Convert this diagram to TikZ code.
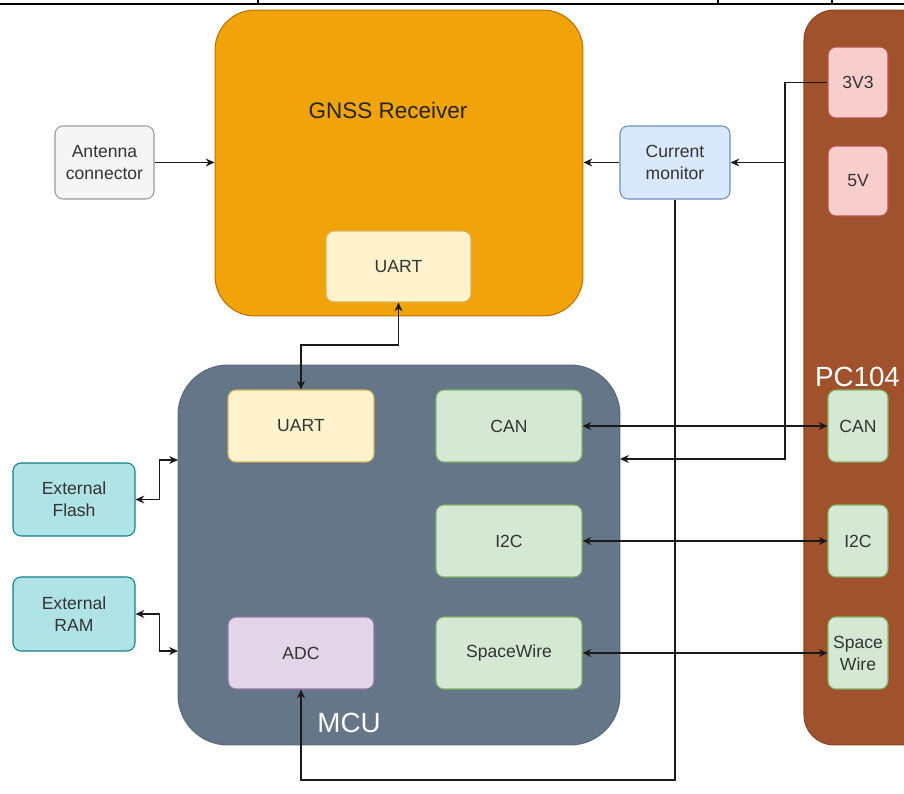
\documentclass[tikz,border=0pt]{standalone}
\usepackage{fontspec}
\setmainfont{Liberation Sans}
\usetikzlibrary{arrows.meta}
\definecolor{gnssfill}{HTML}{F0A30A}
\definecolor{gnssline}{HTML}{BD7000}
\definecolor{uartfill}{HTML}{FFF2CC}
\definecolor{uartline}{HTML}{D6B656}
\definecolor{antfill}{HTML}{F5F5F5}
\definecolor{antline}{HTML}{9A9A9A}
\definecolor{monfill}{HTML}{DAE8FC}
\definecolor{monline}{HTML}{6C8EBF}
\definecolor{pcfill}{HTML}{A0522D}
\definecolor{pcline}{HTML}{8A4422}
\definecolor{pwrfill}{HTML}{F8CECC}
\definecolor{pwrline}{HTML}{B85450}
\definecolor{busfill}{HTML}{D5E8D4}
\definecolor{busline}{HTML}{82B366}
\definecolor{mcufill}{HTML}{647687}
\definecolor{mculine}{HTML}{56687A}
\definecolor{adcfill}{HTML}{E1D5E7}
\definecolor{adcline}{HTML}{9673A6}
\definecolor{memfill}{HTML}{B0E3E6}
\definecolor{memline}{HTML}{0E8088}
\definecolor{txtgray}{HTML}{333333}
\definecolor{linegray}{HTML}{1A1A1A}
\begin{document}
\begin{tikzpicture}[x=0.02cm,y=-0.02cm,
  blk/.style={draw,rounded corners=0.16cm,align=center,inner sep=0pt,line width=0.6pt,
    text=txtgray,font=\fontsize{10}{12.5}\selectfont},
  arr/.style={-{Stealth[length=5pt,width=4.5pt]},line width=0.6pt,draw=linegray},
  darr/.style={{Stealth[length=5pt,width=4.5pt]}-{Stealth[length=5pt,width=4.5pt]},line width=0.6pt,draw=linegray}]
\useasboundingbox (0,0) rectangle (904,794);
\draw[line width=1.7pt] (0,4) -- (904,4);
\foreach \tx in {258,718,832} \draw[line width=0.6pt] (\tx,0) -- (\tx,4);
\node[blk,fill=gnssfill,draw=gnssline,rounded corners=0.8cm,minimum width=7.36cm,minimum height=6.12cm] (gnss) at (399,163) {};
\node[text=black!85,font=\fontsize{12.8}{15}\selectfont] (gnsslbl) at (388,110) {GNSS Receiver};
\node[blk,fill=uartfill,draw=uartline,minimum width=2.9cm,minimum height=1.42cm] (guart) at (398.5,266.5) {UART};
\node[blk,fill=antfill,draw=antline,minimum width=1.98cm,minimum height=1.46cm] (ant) at (104.5,162.5) {Antenna\\connector};
\node[blk,fill=monfill,draw=monline,minimum width=2.2cm,minimum height=1.46cm] (curmon) at (675,162.5) {Current\\monitor};
\node[blk,fill=pcfill,draw=pcline,rounded corners=0.6cm,minimum width=2.52cm,minimum height=14.7cm] (pc) at (867,377.5) {};
\node[text=white,font=\fontsize{15.8}{18}\selectfont] (pclbl) at (857.5,377) {PC104};
\node[blk,fill=pwrfill,draw=pwrline,minimum width=1.2cm,minimum height=1.42cm] (v33) at (858,82.5) {3V3};
\node[blk,fill=pwrfill,draw=pwrline,minimum width=1.2cm,minimum height=1.4cm] (v5) at (858,181) {5V};
\node[blk,fill=busfill,draw=busline,minimum width=1.2cm,minimum height=1.44cm] (pccan) at (858,426) {CAN};
\node[blk,fill=busfill,draw=busline,minimum width=1.2cm,minimum height=1.44cm] (pci2c) at (858,541) {I2C};
\node[blk,fill=busfill,draw=busline,minimum width=1.2cm,minimum height=1.44cm] (pcsw) at (858,653) {Space\\Wire};
\node[blk,fill=mcufill,draw=mculine,rounded corners=1cm,minimum width=8.84cm,minimum height=7.6cm] (mcu) at (399,555) {};
\node[text=white,font=\fontsize{15.8}{18}\selectfont] (mculbl) at (349,723) {MCU};
\node[blk,fill=uartfill,draw=uartline,minimum width=2.92cm,minimum height=1.44cm] (muart) at (301,426) {UART};
\node[blk,fill=busfill,draw=busline,minimum width=2.92cm,minimum height=1.44cm] (mcan) at (509,426) {CAN};
\node[blk,fill=busfill,draw=busline,minimum width=2.92cm,minimum height=1.44cm] (mi2c) at (509,541) {I2C};
\node[blk,fill=busfill,draw=busline,minimum width=2.92cm,minimum height=1.44cm] (msw) at (509,653) {SpaceWire};
\node[blk,fill=adcfill,draw=adcline,minimum width=2.92cm,minimum height=1.44cm] (adc) at (301,653) {ADC};
\node[blk,fill=memfill,draw=memline,minimum width=2.44cm,minimum height=1.46cm] (flash) at (74,499.5) {External\\Flash};
\node[blk,fill=memfill,draw=memline,minimum width=2.44cm,minimum height=1.48cm] (ram) at (74,614) {External\\RAM};
\coordinate (pwrjoin) at (785,162.5);
\coordinate (mcupwr) at (620,459);
\coordinate (lowbend) at (675,780);
\coordinate (uartbend) at (398.5,345);
\coordinate (flashin) at (178,460);
\coordinate (ramin) at (178,651);
\draw[arr] (ant.east) -- (ant.east -| gnss.west);
\draw[arr] (curmon.west) -- (curmon.west -| gnss.east);
\draw[arr] (v33.west) -| (pwrjoin) -- (curmon.east);
\draw[arr] (pwrjoin) |- (mcupwr);
\draw[arr] (curmon.south) -- (lowbend) -| (adc.south);
\draw[darr] (guart.south) -- (uartbend) -| (muart.north);
\draw[darr] (mcan.east) -- (pccan.west);
\draw[darr] (mi2c.east) -- (pci2c.west);
\draw[darr] (msw.east) -- (pcsw.west);
\draw[darr] (flash.east) -- ++(24,0) |- (flashin);
\draw[darr] (ram.east) -- ++(24,0) |- (ramin);
\end{tikzpicture}
\end{document}
